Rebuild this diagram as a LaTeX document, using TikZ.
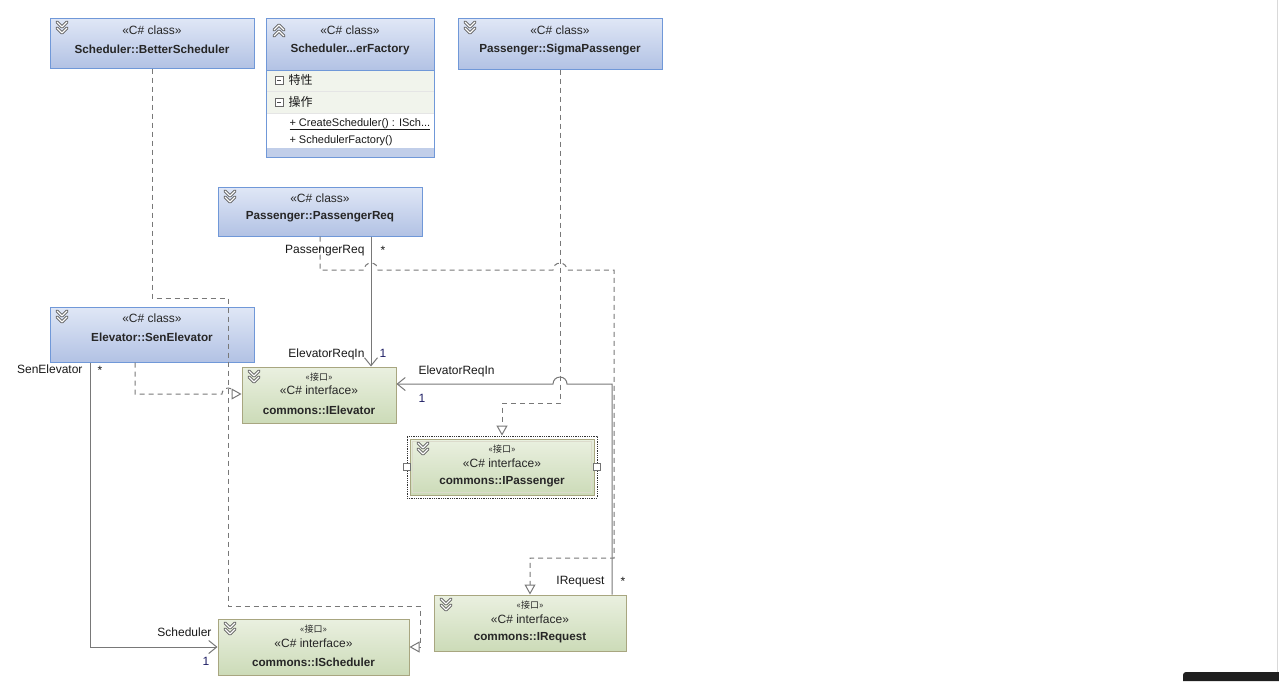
\documentclass[tikz,border=0pt]{standalone}
\usepackage{fontspec}
\setmainfont{Liberation Sans}
\newfontfamily\cjk{Noto Sans CJK SC}
\usetikzlibrary{arrows.meta}

\definecolor{clstop}{RGB}{224,231,246}
\definecolor{clsbot}{RGB}{178,194,228}
\definecolor{clsline}{RGB}{112,152,216}
\definecolor{ifctop}{RGB}{234,240,224}
\definecolor{ifcbot}{RGB}{204,219,184}
\definecolor{ifcline}{RGB}{168,166,128}
\definecolor{conn}{RGB}{120,120,120}
\definecolor{rowbg}{RGB}{241,244,236}
\definecolor{mult}{RGB}{30,30,100}

\tikzset{
  clsbox/.style={draw=clsline, top color=clstop, bottom color=clsbot, inner sep=0pt},
  ifcbox/.style={draw=ifcline, top color=ifctop, bottom color=ifcbot, inner sep=0pt},
  stereo/.style={font=\fontsize{12}{14}\selectfont, inner sep=0pt, text=black!85},
  cname/.style={font=\bfseries\fontsize{11.7}{14}\selectfont, inner sep=0pt, text=black!85},
  cjklabel/.style={font=\cjk\fontsize{9}{10}\selectfont, inner sep=0pt, text=black!85},
  role/.style={font=\fontsize{12}{14}\selectfont, inner sep=0pt, text=black!90},
  oper/.style={font=\fontsize{11}{13}\selectfont, inner sep=0pt, anchor=base west, text=black!90},
  assoc/.style={draw=conn, -{Straight Barb[length=8pt,width=13pt]}},
  realiz/.style={draw=conn, dash pattern=on 5pt off 4pt,
    -{Triangle[open,length=10pt,width=11pt,fill=white]}},
  chev/.pic={
    \draw[black!65, line width=3pt, line cap=round, line join=round]
      (-5,-5) -- (0,0) -- (5,-5) (-5,1) -- (0,6) -- (5,1);
    \draw[white, line width=1.3pt, line cap=round, line join=round]
      (-5,-5) -- (0,0) -- (5,-5) (-5,1) -- (0,6) -- (5,1);},
  chevup/.pic={
    \draw[black!65, line width=3pt, line cap=round, line join=round]
      (-5,5) -- (0,0) -- (5,5) (-5,-1) -- (0,-6) -- (5,-1);
    \draw[white, line width=1.3pt, line cap=round, line join=round]
      (-5,5) -- (0,0) -- (5,5) (-5,-1) -- (0,-6) -- (5,-1);},
  minusbox/.pic={
    \draw[black!60, fill=white] (-4,-4) rectangle (4,4);
    \draw[black!70] (-2,0) -- (2,0);},
}

\begin{document}
\begin{tikzpicture}[x=1pt, y=-1pt, line width=1pt]
  \useasboundingbox (0,0) rectangle (1279,681);
  \fill[white] (0,0) rectangle (1279,681);

  % classes
  \node[clsbox, minimum width=204, minimum height=50] (better) at (152,43) {};
  \node[stereo] (better-s) at (152,30) {«C\# class»};
  \node[cname] (better-n) at (152,49) {Scheduler::BetterScheduler};
  \pic at (62,27) {chev};

  \fill[rowbg] (266,70) rectangle (434,113);
  \fill[white] (266,113) rectangle (434,148);
  \fill[clsbot!80] (266,148) rectangle (434,157);
  \draw[black!10] (266,91) -- (434,91) (266,113) -- (434,113);
  \draw[clsline] (266,70) rectangle (434,157);
  \node[clsbox, minimum width=168, minimum height=52, anchor=north west] (fact) at (266,18) {};
  \node[stereo] (fact-s) at (350,30) {«C\# class»};
  \node[cname] (fact-n) at (350,49) {Scheduler...erFactory};
  \pic at (279,31) {chevup};
  \pic at (279,80) {minusbox};
  \pic at (279,102) {minusbox};
  \node[role, anchor=west] (fact-attr) at (288,80) {\cjk 特性};
  \node[role, anchor=west] (fact-ops) at (288,102) {\cjk 操作};
  \node[oper] (fact-op1) at (289,126) {\underline{+ CreateScheduler() : ISch...}};
  \node[oper] (fact-op2) at (289,143) {+ SchedulerFactory()};

  \node[clsbox, minimum width=204, minimum height=51] (sigma) at (560,43.5) {};
  \node[stereo] (sigma-s) at (560,30) {«C\# class»};
  \node[cname] (sigma-n) at (560,49) {Passenger::SigmaPassenger};
  \pic at (470,27) {chev};

  \node[clsbox, minimum width=204, minimum height=49] (preq) at (320,211.5) {};
  \node[stereo] (preq-s) at (320,198) {«C\# class»};
  \node[cname] (preq-n) at (320,217) {Passenger::PassengerReq};
  \pic at (230,196) {chev};

  \node[clsbox, minimum width=204, minimum height=55] (senelev) at (152,334.5) {};
  \node[stereo] (senelev-s) at (152,318) {«C\# class»};
  \node[cname] (senelev-n) at (152,337) {Elevator::SenElevator};
  \pic at (62,316) {chev};

  % interfaces
  \node[ifcbox, minimum width=154, minimum height=56] (ielev) at (319,395) {};
  \node[cjklabel] (ielev-k) at (319,377) {«接口»};
  \node[stereo] (ielev-s) at (319,390) {«C\# interface»};
  \node[cname] (ielev-n) at (319,410) {commons::IElevator};
  \pic at (254,376) {chev};

  \node[draw=black!80, densely dotted, line width=0.8pt, minimum width=190, minimum height=62, inner sep=0pt] (ipass-sel) at (502,467) {};
  \node[ifcbox, minimum width=184, minimum height=56] (ipass) at (502,467) {};
  \draw[white!60!ifcline] ([shift={(3,3)}]ipass.north west) rectangle ([shift={(-3,-3)}]ipass.south east);
  \node[cjklabel] (ipass-k) at (502,449) {«接口»};
  \node[stereo] (ipass-s) at (502,463) {«C\# interface»};
  \node[cname] (ipass-n) at (502,482) {commons::IPassenger};
  \pic at (423,448) {chev};
  \node[draw=black!55, fill=white, minimum size=7, inner sep=0pt] (ipass-hl) at (ipass-sel.west) {};
  \node[draw=black!55, fill=white, minimum size=7, inner sep=0pt] (ipass-hr) at (ipass-sel.east) {};

  \node[ifcbox, minimum width=192, minimum height=56] (ireq) at (530,623) {};
  \node[cjklabel] (ireq-k) at (530,605) {«接口»};
  \node[stereo] (ireq-s) at (530,619) {«C\# interface»};
  \node[cname] (ireq-n) at (530,638) {commons::IRequest};
  \pic at (446,604) {chev};

  \node[ifcbox, minimum width=191, minimum height=56] (isched) at (313.5,647) {};
  \node[cjklabel] (isched-k) at (313.5,629) {«接口»};
  \node[stereo] (isched-s) at (313.5,643) {«C\# interface»};
  \node[cname] (isched-n) at (313.5,662) {commons::IScheduler};
  \pic at (230,628) {chev};

  % connector ends
  \coordinate (senelev-a) at ([xshift=-62]senelev.south);
  \coordinate (senelev-r) at ([xshift=-17]senelev.south);
  \coordinate (preq-a) at ([xshift=51]preq.south);
  \coordinate (ireq-a) at ([xshift=82]ireq.north);

  % realizations
  \draw[realiz] (better.south) |- (228,298) |- (420,606) |- (isched.east);
  \draw[realiz] (senelev-r) -- (135,394) -- (222,394)
    arc[start angle=180, end angle=360, radius=6] -- (ielev.west |- 0,394);
  \draw[realiz] (preq.south) -- (320,270) -- (364,270)
    arc[start angle=180, end angle=360, radius=7] -- (553,270)
    arc[start angle=180, end angle=360, radius=7] -- (614,270) -- (614,558) -- (530,558) -- (ireq.north);
  \draw[realiz] (sigma.south) -- (560,403) -- (502,403) -- (ipass-sel.north);

  % associations
  \draw[assoc] (preq-a) -- (preq-a |- ielev.north);
  \draw[assoc] (ireq-a) -- (612,384) -- (567,384)
    arc[start angle=0, end angle=-180, radius=7] -- (ielev.east |- 0,384);
  \draw[assoc] (senelev-a) |- (isched.west);

  % roles and multiplicities
  \node[role, anchor=base east] (l-preq) at (365,253) {PassengerReq};
  \node[role, anchor=base] (m-preq) at (383,254) {*};
  \node[role, anchor=base east] (l-ielev1) at (365,357) {ElevatorReqIn};
  \node[role, anchor=base, text=mult] (m-ielev1) at (383,357) {1};
  \node[role, anchor=base west] (l-ielev2) at (418,374) {ElevatorReqIn};
  \node[role, anchor=base, text=mult] (m-ielev2) at (422,402) {1};
  \node[role, anchor=base east] (l-senelev) at (83,373) {SenElevator};
  \node[role, anchor=base] (m-senelev) at (100,374) {*};
  \node[role, anchor=base east] (l-isched) at (212,636) {Scheduler};
  \node[role, anchor=base, text=mult] (m-isched) at (206,665) {1};
  \node[role, anchor=base east] (l-ireq) at (605,584) {IRequest};
  \node[role, anchor=base] (m-ireq) at (623,585) {*};

  % screen corner
  \draw[black!15] (1277.5,0) -- (1277.5,681);
  \fill[black!88] (1183,681) -- (1183,675) arc[start angle=180, end angle=270, radius=3] -- (1279,672) -- (1279,681) -- cycle;
\end{tikzpicture}
\end{document}
